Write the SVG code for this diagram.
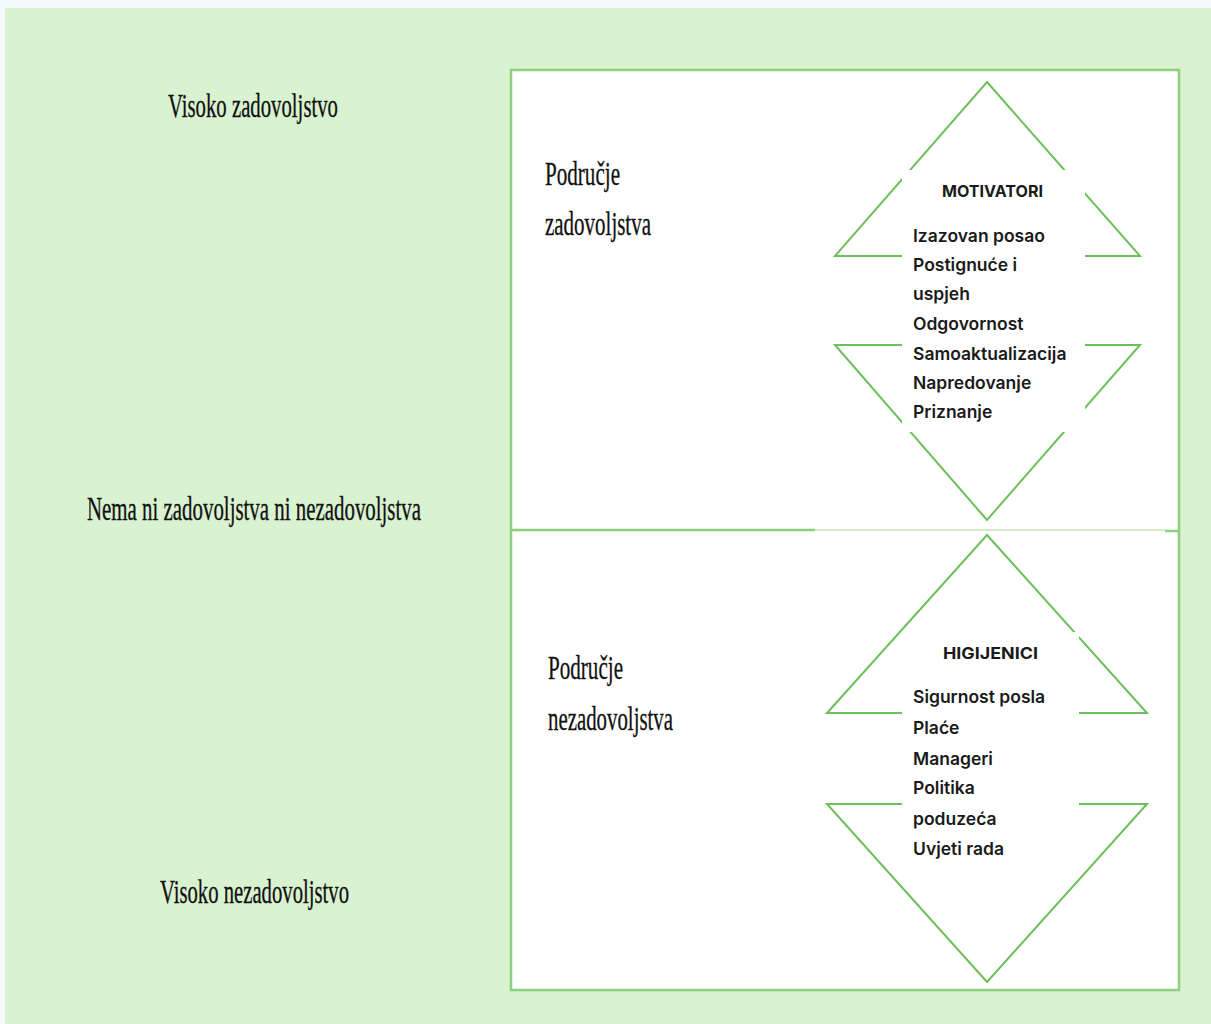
<svg xmlns="http://www.w3.org/2000/svg" width="1211" height="1024" viewBox="0 0 1211 1024">
<style>
.lbl{font-family:"Liberation Serif","Times New Roman",serif;font-size:33px;fill:#111;stroke:#111;stroke-width:0.3}
.hd{font-family:Inter,"Noto Sans",sans-serif;font-size:16px;font-weight:700;fill:#1a1a1a}
.it{font-family:Inter,"Noto Sans",sans-serif;font-size:17.5px;font-weight:600;fill:#1a1a1a}
.tri{fill:none;stroke:#6cbf5a;stroke-width:2}
.frame{fill:#fff;stroke:#8ccf7e;stroke-width:2.5}
</style>
<rect x="0" y="0" width="1211" height="1024" fill="#f4fafc"/>
<rect x="5" y="8" width="1206" height="1016" fill="#d9f2d0"/>
<g id="panel">
<rect class="frame" x="511" y="70" width="668" height="920"/>
<line x1="511" y1="530" x2="815" y2="530" stroke="#8ccf7e" stroke-width="2.5"/>
<line x1="815" y1="530" x2="1165" y2="530" stroke="#d3ecca" stroke-width="2"/>
<line x1="1165" y1="531" x2="1179" y2="531" stroke="#8ccf7e" stroke-width="2.5"/>
</g>
<g id="left-labels">
<text class="lbl" x="168" y="117" textLength="170" lengthAdjust="spacingAndGlyphs">Visoko zadovoljstvo</text>
<text class="lbl" x="87" y="520" textLength="334" lengthAdjust="spacingAndGlyphs">Nema ni zadovoljstva ni nezadovoljstva</text>
<text class="lbl" x="160" y="903" textLength="189" lengthAdjust="spacingAndGlyphs">Visoko nezadovoljstvo</text>
</g>
<g id="zone-satisfaction">
<text class="lbl" x="545" y="185" textLength="75" lengthAdjust="spacingAndGlyphs">Područje</text>
<text class="lbl" x="545" y="235" textLength="106" lengthAdjust="spacingAndGlyphs">zadovoljstva</text>
</g>
<g id="zone-dissatisfaction">
<text class="lbl" x="548" y="679" textLength="75" lengthAdjust="spacingAndGlyphs">Područje</text>
<text class="lbl" x="548" y="730" textLength="125" lengthAdjust="spacingAndGlyphs">nezadovoljstva</text>
</g>
<g id="motivatori">
<polygon class="tri" points="987,82 1140,256 835,256"/>
<polygon class="tri" points="835,345 1140,345 987,520"/>
<rect x="902" y="170" width="183" height="262" fill="#fff"/>
<text class="hd" x="942" y="197" textLength="101" lengthAdjust="spacingAndGlyphs">MOTIVATORI</text>
<text class="it" x="913" y="242">Izazovan posao</text>
<text class="it" x="913" y="271">Postignuće i</text>
<text class="it" x="913" y="300">uspjeh</text>
<text class="it" x="913" y="330">Odgovornost</text>
<text class="it" x="913" y="360">Samoaktualizacija</text>
<text class="it" x="913" y="389">Napredovanje</text>
<text class="it" x="913" y="418">Priznanje</text>
</g>
<g id="higijenici">
<polygon class="tri" points="987,535 1147,713 827,713"/>
<polygon class="tri" points="827,804 1147,804 987,982"/>
<rect x="902" y="632" width="177" height="233" fill="#fff"/>
<text class="hd" x="943" y="659" textLength="95" lengthAdjust="spacingAndGlyphs">HIGIJENICI</text>
<text class="it" x="913" y="703">Sigurnost posla</text>
<text class="it" x="913" y="734">Plaće</text>
<text class="it" x="913" y="765">Manageri</text>
<text class="it" x="913" y="794">Politika</text>
<text class="it" x="913" y="825">poduzeća</text>
<text class="it" x="913" y="855">Uvjeti rada</text>
</g>
<g id="connectors"></g>
</svg>
